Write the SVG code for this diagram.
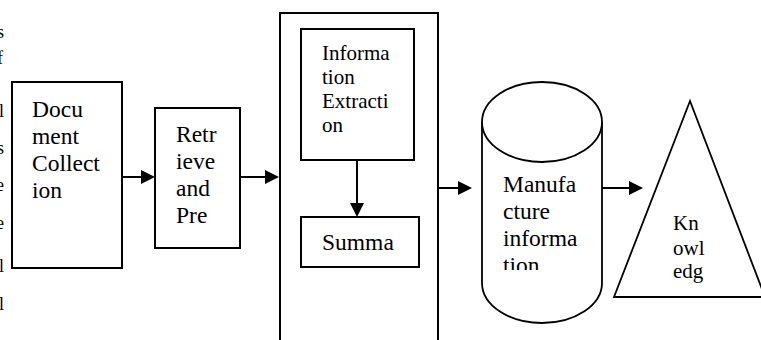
<svg xmlns="http://www.w3.org/2000/svg" width="761" height="340" viewBox="0 0 761 340">
<defs>
<style>
.box{fill:#fff;stroke:#000;stroke-width:2}
.shape{fill:#fff;stroke:#000;stroke-width:1.8}
.t{font-family:"Liberation Serif","Times New Roman",serif;font-size:23.5px;fill:#000}
.s{font-family:"Liberation Serif","Times New Roman",serif;font-size:21px;fill:#000}
.edge{font-family:"Liberation Serif","Times New Roman",serif;font-size:18px;fill:#000}
.c{fill:none;stroke:#000;stroke-width:2}
</style>
<marker id="ah" viewBox="0 0 14 14" refX="10" refY="7" markerWidth="14" markerHeight="14" markerUnits="userSpaceOnUse" orient="auto">
<path d="M0,0 L14,7 L0,14 Z" fill="#000"/>
</marker>
<clipPath id="cylclip"><rect x="482" y="170" width="120" height="100"/></clipPath>
</defs>
<rect width="761" height="340" fill="#fff"/>
<g id="margin-text" class="edge" text-anchor="end">
<text x="4" y="38">s</text>
<text x="3" y="64">f</text>
<text x="4" y="117">l</text>
<text x="4" y="154">s</text>
<text x="4" y="191">e</text>
<text x="4" y="229">e</text>
<text x="4" y="272">l</text>
<text x="4" y="310">l</text>
</g>
<g id="document-collection">
<rect class="box" x="12" y="82" width="110" height="186"/>
<text class="t" x="32" y="117">Docu</text>
<text class="t" x="32" y="144">ment</text>
<text class="t" x="32" y="171">Collect</text>
<text class="t" x="32" y="198">ion</text>
</g>
<g id="retrieve">
<rect class="box" x="155" y="108" width="85" height="140"/>
<text class="t" x="176" y="142">Retr</text>
<text class="t" x="176" y="169">ieve</text>
<text class="t" x="176" y="196">and</text>
<text class="t" x="176" y="223">Pre</text>
</g>
<g id="processing">
<rect class="box" x="280" y="13" width="158" height="340"/>
</g>
<g id="information-extraction">
<rect class="box" x="301" y="29" width="113" height="131"/>
<text class="s" x="322" y="60">Informa</text>
<text class="s" x="322" y="84">tion</text>
<text class="s" x="322" y="108">Extracti</text>
<text class="s" x="322" y="132">on</text>
</g>
<g id="summa">
<rect class="box" x="301" y="217" width="118" height="50"/>
<text class="t" x="322" y="250">Summa</text>
</g>
<g id="manufacture-information">
<path class="shape" d="M482,122 L482,283 A60,40 0 0 0 602,283 L602,122"/>
<ellipse class="shape" cx="542" cy="122" rx="60" ry="40"/>
<g clip-path="url(#cylclip)">
<text class="t" x="503" y="192">Manufa</text>
<text class="t" x="503" y="219">cture</text>
<text class="t" x="503" y="246">informa</text>
<text class="t" x="503" y="273">tion</text>
</g>
</g>
<g id="knowledge">
<polygon class="shape" points="690,101 614,297 765,297"/>
<text class="s" x="673" y="230">Kn</text>
<text class="s" x="673" y="255">owl</text>
<text class="s" x="673" y="278">edg</text>
</g>
<g id="connectors">
<line class="c" x1="122" y1="177" x2="151" y2="177" marker-end="url(#ah)"/>
<line class="c" x1="240" y1="177" x2="275" y2="177" marker-end="url(#ah)"/>
<line class="c" x1="357" y1="160" x2="357" y2="213" marker-end="url(#ah)"/>
<line class="c" x1="438" y1="188" x2="468" y2="188" marker-end="url(#ah)"/>
<line class="c" x1="602" y1="188" x2="639" y2="188" marker-end="url(#ah)"/>
</g>
</svg>
